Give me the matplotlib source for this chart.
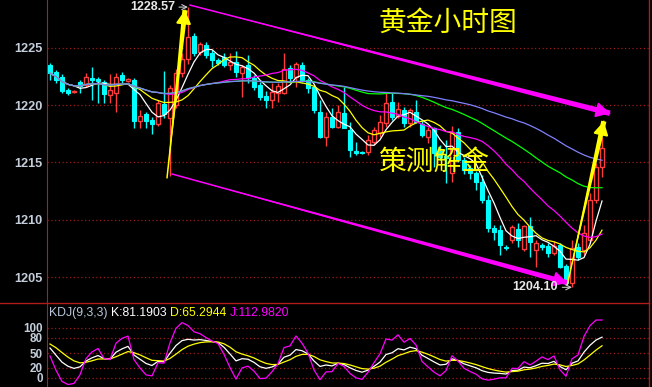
import numpy as np
import pandas as pd
import matplotlib
matplotlib.use("Agg")
import matplotlib.pyplot as plt
from matplotlib.lines import Line2D

# hourly gold candles
opens = [1223.5, 1222.9, 1222.5, 1221.3, 1221.15, 1222.0, 1221.8, 1222.4, 1222.3, 1222.0,
         1220.9, 1221.1, 1222.6, 1222.15, 1222.2, 1218.6, 1219.2, 1218.7, 1218.4, 1220.1,
         1218.9, 1220.0, 1222.8, 1224.0, 1226.05, 1224.65, 1225.3, 1224.6, 1223.95, 1224.2,
         1223.5, 1223.8, 1222.8, 1223.5, 1222.4, 1221.8, 1220.8, 1220.45, 1221.1, 1221.1,
         1223.25, 1222.5, 1223.5, 1222.2, 1221.6, 1219.4, 1217.2, 1219.0, 1218.1, 1219.3,
         1217.8, 1216.0, 1215.9, 1215.9, 1216.8, 1217.6, 1218.45, 1220.3, 1219.05, 1219.6,
         1218.45, 1219.4, 1218.4, 1217.2, 1218.0, 1216.0, 1215.6, 1214.1, 1217.7, 1215.2,
         1214.5, 1214.05, 1213.3, 1211.7, 1209.3, 1209.1, 1207.6, 1208.2, 1209.2, 1207.45,
         1209.45, 1207.35, 1207.8, 1207.7, 1207.1, 1207.8, 1206.0, 1204.5, 1207.6, 1207.35,
         1208.25, 1211.7, 1214.6]
highs = [1223.7, 1223.1, 1222.7, 1221.5, 1221.3, 1222.2, 1222.8, 1223.3, 1222.5, 1222.2,
         1222.7, 1222.8, 1222.9, 1222.4, 1222.4, 1219.6, 1219.4, 1219.0, 1220.5, 1223.0,
         1221.8, 1223.2, 1224.6, 1228.57, 1226.3, 1225.5, 1225.5, 1224.8, 1224.1, 1224.6,
         1224.6, 1224.7, 1223.5, 1224.4, 1222.6, 1222.0, 1221.2, 1221.9, 1221.9, 1224.6,
         1223.5, 1223.8, 1223.8, 1222.4, 1221.8, 1220.5, 1219.4, 1219.8, 1220.0, 1221.6,
         1218.5, 1216.8, 1216.0, 1217.4, 1218.1, 1219.15, 1221.1, 1221.1, 1220.3, 1219.85,
         1219.8, 1220.5, 1218.7, 1218.1, 1218.1, 1216.5, 1217.0, 1218.15, 1218.0, 1215.5,
         1214.8, 1214.3, 1213.9, 1212.2, 1209.5, 1209.5, 1207.8, 1209.55, 1209.7, 1209.5,
         1210.2, 1208.2, 1207.95, 1207.95, 1208.15, 1207.95, 1206.1, 1208.2, 1207.95, 1209.55,
         1212.3, 1214.95, 1217.2]
lows = [1222.2, 1221.9, 1221.1, 1220.9, 1221.1, 1221.1, 1221.6, 1220.5, 1220.2, 1220.2,
        1220.2, 1219.4, 1221.9, 1222.0, 1218.0, 1218.0, 1218.0, 1217.5, 1218.2, 1218.9,
        1213.8, 1219.8, 1222.5, 1223.6, 1224.3, 1224.4, 1224.1, 1223.3, 1223.5, 1223.3,
        1223.1, 1222.5, 1220.7, 1221.9, 1221.3, 1220.5, 1219.8, 1219.8, 1220.3, 1221.0,
        1222.0, 1221.6, 1222.0, 1221.1, 1219.3, 1217.1, 1216.4, 1218.0, 1218.0, 1218.0,
        1215.5, 1215.65, 1215.7, 1215.65, 1216.5, 1217.2, 1218.1, 1218.7, 1218.9, 1218.1,
        1218.1, 1218.45, 1217.2, 1216.7, 1214.6, 1215.2, 1213.2, 1213.3, 1215.0, 1214.0,
        1213.6, 1212.6, 1211.5, 1208.9, 1208.2, 1206.9, 1207.4, 1208.0, 1207.6, 1207.3,
        1206.75, 1205.9, 1207.35, 1206.75, 1206.9, 1205.8, 1204.3, 1204.1, 1206.5, 1206.9,
        1208.0, 1211.5, 1213.75]
closes = [1222.8, 1222.2, 1221.2, 1221.1, 1221.2, 1221.7, 1222.5, 1222.2, 1222.1, 1221.0,
          1221.3, 1222.5, 1222.2, 1222.25, 1218.6, 1219.1, 1218.6, 1218.4, 1220.2, 1219.2,
          1221.5, 1222.8, 1224.0, 1226.0, 1224.6, 1225.35, 1224.4, 1223.95, 1223.7, 1223.5,
          1223.8, 1222.9, 1223.35, 1222.4, 1221.6, 1220.7, 1220.45, 1221.15, 1221.7, 1223.2,
          1222.4, 1223.6, 1222.2, 1221.5, 1219.6, 1217.2, 1219.0, 1218.1, 1219.4, 1218.0,
          1216.1, 1215.8, 1215.8, 1216.95, 1217.85, 1218.5, 1220.2, 1219.0, 1219.7, 1218.45,
          1219.6, 1218.5, 1217.4, 1217.85, 1215.8, 1215.5, 1215.4, 1217.6, 1215.2, 1214.35,
          1214.1, 1213.3, 1211.7, 1209.3, 1208.9, 1207.8, 1207.5, 1209.4, 1208.2, 1209.45,
          1208.05, 1207.95, 1207.6, 1207.1, 1207.7, 1205.9, 1204.5, 1207.5, 1206.75, 1208.85,
          1211.7, 1214.6, 1216.3]

ma_periods = [5, 10, 20, 40, 60]
ma_colors = ['#ffffff', '#ffff00', '#ff00ff', '#00ff00', '#8080ff']

price_ticks = [1205, 1210, 1215, 1220, 1225]
kdj_ticks = [0, 20, 50, 80, 100]
kdj_start = (70, 72)   # K, D at the left edge
kdj_values = ['K:81.1903', 'D:65.2944', 'J:112.9820']

high_mark = (23, 1228.57)
low_mark = (87, 1204.10)
channel_upper = [(23.3, 1228.75), (93.3, 1219.3)]
channel_lower = [(20.3, 1214.0), (86.2, 1204.5)]
arrow_up1 = [(19.5, 1213.65), (22.5, 1228.3)]
arrow_up2 = [(86.2, 1204.3), (92.3, 1218.6)]

title_text = '黄金小时图'
mid_text = '策测解金'

RED = '#ff3c3c'
CYAN = '#00ffff'
GRID = '#a01818'
AXIS = '#b01c1c'
LABEL = '#c4cedb'
cjk = ['Noto Sans CJK SC', 'DejaVu Sans']


def taper_arrow(ax, start, end, color, width):
    # thin line under a wedge that widens toward the head
    ax.annotate('', xy=end, xytext=start,
                arrowprops=dict(arrowstyle='-', color=color, lw=1.1,
                                shrinkA=0, shrinkB=0), zorder=6)
    ax.annotate('', xy=start, xytext=end,
                arrowprops=dict(arrowstyle=f'wedge,tail_width={width},shrink_factor=0.5',
                                color=color, lw=0, shrinkA=0, shrinkB=0,
                                mutation_scale=10), zorder=6)
    s = np.array(start)
    e = np.array(end)
    m = s + 0.9 * (e - s)
    ax.annotate('', xy=end, xytext=tuple(m),
                arrowprops=dict(arrowstyle='-|>,head_length=0.8,head_width=0.45',
                                color=color, lw=1.5, shrinkA=0, shrinkB=0), zorder=6)


o = np.array(opens)
h = np.array(highs)
l = np.array(lows)
c = np.array(closes)
idx = np.arange(len(c))

fig = plt.figure(figsize=(6.52, 3.87), dpi=100, facecolor='black')
ax = fig.add_axes([47 / 652, 84 / 387, 602 / 652, 303 / 387], facecolor='black')
kx = fig.add_axes([47 / 652, 0, 602 / 652, 84 / 387], facecolor='black', sharex=ax)

for a in (ax, kx):
    for s in a.spines.values():
        s.set_visible(False)
    a.spines['left'].set_visible(True)
    a.spines['left'].set_color(AXIS)
    a.tick_params(axis='x', bottom=False, labelbottom=False)
    a.tick_params(axis='y', length=0, pad=3, labelcolor=LABEL)
    a.grid(axis='y', color=GRID, linestyle=(0, (1, 2)), linewidth=0.9)
    a.set_axisbelow(True)

# candles
up = c >= o
col = np.where(up, RED, CYAN)
ax.vlines(idx, l, h, colors=col, lw=1, zorder=2)
bottom = np.minimum(o, c)
height = np.maximum(np.abs(c - o), 0.05)
ax.bar(idx[up], height[up], bottom=bottom[up], width=0.68,
       facecolor='black', edgecolor=RED, lw=1, zorder=3)
ax.bar(idx[~up], height[~up], bottom=bottom[~up], width=0.68,
       facecolor=CYAN, edgecolor=CYAN, lw=0.8, zorder=3)

# moving averages
cs = pd.Series(closes)
for p, mc in zip(ma_periods, ma_colors):
    ax.plot(idx, cs.rolling(p, min_periods=1).mean(), color=mc, lw=0.9, zorder=4)

ax.set_xlim(-0.5, 99.83)
ax.set_ylim(1202.73, 1229.19)
ax.set_yticks(price_ticks)
ax.set_yticklabels([str(t) for t in price_ticks], fontsize=9.2,
                   fontweight='bold', family='Liberation Sans')

# trend channel and arrows
taper_arrow(ax, channel_upper[0], channel_upper[1], '#ff00ff', 0.4)
taper_arrow(ax, channel_lower[0], channel_lower[1], '#ff00ff', 0.38)
taper_arrow(ax, arrow_up1[0], arrow_up1[1], '#ffff00', 0.38)
taper_arrow(ax, arrow_up2[0], arrow_up2[1], '#ffff00', 0.38)

# high / low labels
ax.annotate(f'{high_mark[1]:.2f}', xy=high_mark, xytext=(-9.5, 0),
            textcoords='offset points', ha='right', va='center', color='#e8e8e8',
            fontsize=9, fontweight='bold', family='Liberation Sans', zorder=7,
            arrowprops=dict(arrowstyle='->', color='#c8c8c8', lw=0.8, shrinkA=1, shrinkB=0))
ax.annotate(f'{low_mark[1]:.2f}', xy=low_mark, xytext=(-10, 0),
            textcoords='offset points', ha='right', va='center', color='#e8e8e8',
            fontsize=9, fontweight='bold', family='Liberation Sans', zorder=7,
            arrowprops=dict(arrowstyle='->', color='#c8c8c8', lw=0.8, shrinkA=1, shrinkB=0))

fig.text(378 / 652, 1 - 23 / 387, title_text, color='#ffff00', fontsize=20,
         family=cjk, ha='left', va='center')
fig.text(378 / 652, 1 - 162 / 387, mid_text, color='#ffff00', fontsize=20,
         family=cjk, ha='left', va='center', zorder=8)

# KDJ(9,3,3)
hh = pd.Series(highs).rolling(9, min_periods=1).max().to_numpy()
ll = pd.Series(lows).rolling(9, min_periods=1).min().to_numpy()
rsv = (c - ll) / (hh - ll) * 100
K, D = [], []
k, d = kdj_start
for r in rsv:
    k = (2 * k + r) / 3
    d = (2 * d + k) / 3
    K.append(k)
    D.append(d)
K = np.array(K)
D = np.array(D)
J = 3 * K - 2 * D

kx.plot(idx, K, color='#ffffff', lw=0.9)
kx.plot(idx, D, color='#ffff00', lw=0.9)
kx.plot(idx, J, color='#ff00ff', lw=0.9)
kx.set_ylim(-18, 150)
kx.set_yticks(kdj_ticks)
kx.set_yticklabels([str(t) for t in kdj_ticks], fontsize=8.4,
                   fontweight='bold', family='Liberation Sans')

# legend line of the KDJ panel
parts = [('KDJ(9,3,3) ', '#b8c8dc'), (kdj_values[0] + ' ', '#ffffff'),
         (kdj_values[1] + ' ', '#ffff00'), (kdj_values[2], '#ff00ff')]
x0 = 49 / 652
renderer = fig.canvas.get_renderer()
for txt, tc in parts:
    t = fig.text(x0, 1 - 313 / 387, txt, color=tc, fontsize=8.8,
                 family='Liberation Sans', ha='left', va='center')
    bb = t.get_window_extent(renderer=renderer)
    x0 += bb.width / fig.bbox.width

# frame lines
fig.add_artist(Line2D([0, 649 / 652], [84 / 387, 84 / 387], color=AXIS, lw=1))
fig.add_artist(Line2D([649 / 652, 649 / 652], [0, 1], color=AXIS, lw=1))

fig.savefig('out.png', dpi=100, facecolor='black')
